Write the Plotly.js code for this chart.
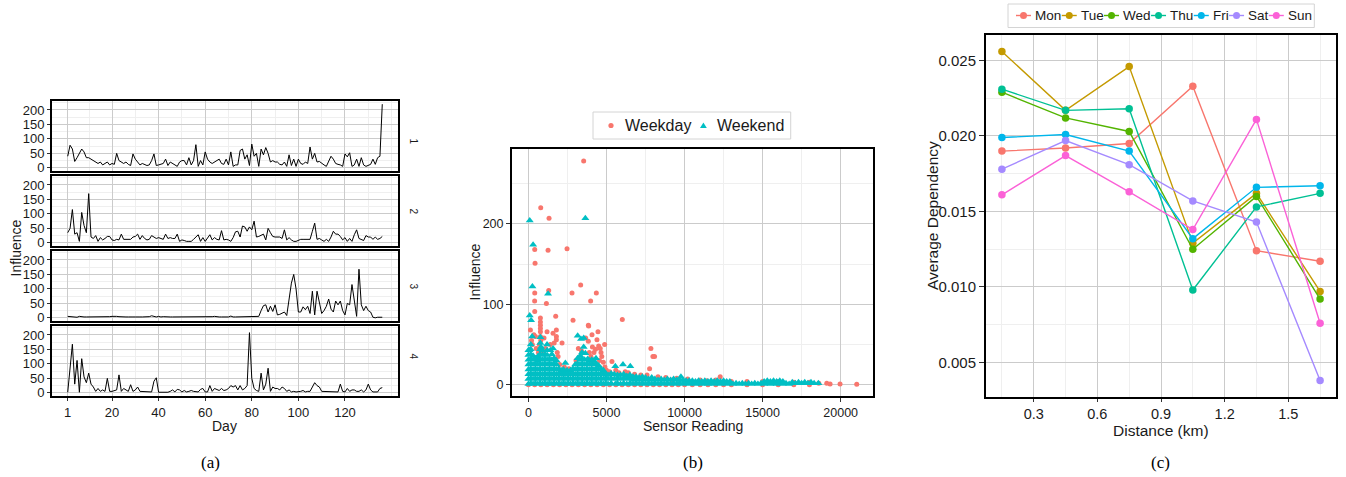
<!DOCTYPE html>
<html><head><meta charset="utf-8">
<script src="https://cdn.plot.ly/plotly-3.0.1.min.js"></script>
<style>html,body{margin:0;padding:0;background:#fff;}#chart{width:1346px;height:477px;}</style>
</head><body><div id="chart"></div>
<script>
// ---------- Panel (a): daily influence for four clusters ----------
const clusterLabels = ['1', '2', '3', '4'];
const dayTicks = [1, 20, 40, 60, 80, 100, 120];
const influence1 = [40,78,65,22,35,50,65,55,35,35, 30,25,20,15,20,10,15,20,10,15, 12,50,25,20,15,20,12,8,48,30,
  20,10,15,10,8,10,25,48,8,10, 12,15,30,8,20,15,10,5,20,25, 25,10,35,10,25,80,5,25,10,55,
  30,20,15,20,22,30,15,12,30,10, 55,5,10,10,60,65,30,45,8,82, 40,50,5,65,45,70,50,20,25,20,
  20,12,10,20,5,45,8,30,5,30, 15,12,20,15,72,30,50,20,22,15, 10,5,20,40,30,15,12,10,5,48,
  38,52,5,10,30,5,35,10,5,10, 12,30,12,35,40,220];
const influence2 = [35,50,115,30,35,5,105,60,35,170, 20,15,25,5,18,10,15,22,22,10, 8,12,10,30,12,12,10,12,20,22,
  30,12,25,15,10,12,25,20,15,18, 15,12,30,15,18,15,15,30,5,10, 8,5,5,5,12,20,28,5,18,5,
  15,28,10,18,12,10,42,10,12,10, 5,18,38,40,20,58,55,40,55,45, 75,20,22,25,30,10,50,35,22,20,
  20,20,15,45,10,18,10,5,5,10, 12,12,12,10,12,40,68,12,15,10, 5,12,5,20,40,30,30,22,10,18,
  5,15,5,28,45,15,10,8,25,20, 20,12,20,12,15,22];
const influence3 = [5,4,3,3,2,5,3,3,3,3, 3,2,3,3,4,3,3,3,4,5, 6,5,4,3,4,3,3,4,3,3,
  2,3,3,3,2,4,7,4,3,5, 3,4,3,4,3,3,3,2,3,4, 3,2,3,3,3,3,3,2,3,3,
  4,3,4,5,3,3,3,3,2,3, 6,3,3,3,3,3,3,3,3,3, 3,3,5,25,42,45,20,40,22,45,
  10,12,15,20,8,60,120,150,100,20, 20,38,28,40,15,92,10,92,50,15, 25,40,65,30,20,58,45,58,25,10,
  50,45,115,55,5,168,45,25,40,25, 20,2,0,2,2,2];
const influence4 = [2,85,168,30,112,2,118,55,35,68, 30,20,5,15,5,10,5,50,5,5, 8,10,62,5,15,10,5,28,5,10,
  20,5,5,3,5,5,3,40,52,2, 2,2,2,2,5,10,3,12,10,3, 8,3,5,8,5,5,3,12,15,3,
  3,25,5,15,10,8,15,8,10,15, 25,20,25,10,25,10,15,25,208,50, 15,8,5,68,10,30,85,5,20,15,
  15,10,20,15,5,10,3,5,3,3, 5,8,3,5,5,20,35,25,20,5, 5,3,3,3,3,3,3,30,5,3,
  15,5,10,10,5,5,10,3,10,30, 10,3,3,3,15,18];

// ---------- Panel (b): sensor reading vs influence ([reading, influence]) ----------
const groupNames = ['Weekday', 'Weekend'];
const readingTicks = [0, 5000, 10000, 15000, 20000];
const weekdayPoints = [
  [3540,278],[790,220],[1322,207],[405,168],[1259,167],[2474,169],[426,151],[3347,124],[405,114],[1300,117],
  [2794,114],[4350,114],[400,104],[1152,101],[3987,104],[405,91],[1749,85],[2858,80],[6014,81],[3839,74],
  [4457,66],[4073,62],[7847,45],[7975,35],[8080,35],[7762,20],[5352,29],[4883,50],[12284,10],[19110,2],
  [19322,1],[19962,1],[21030,0.5],[10960,5],[11433,5],[9194,6],
  [128,68],[768,83],[768,78],[768,74],[768,70],[768,66],[768,60],[790,55],[1194,66],[1791,68],[1578,64],
  [1791,60],[1791,56],[2154,52],[3860,73],[4393,56],[3668,58],[3838,54],[4500,48],[4600,45],[4650,40],
  [4700,35],[4550,30],[4800,28],[4900,22],[5000,18],[5200,16],[4300,44],[4200,40],[4100,47],[200,55],
  [250,50],[350,62],[450,60],[500,45],[640,40],[700,50],[960,40],[1000,58],[1100,45],[1400,50],[1650,52],
  [1850,40],[1900,35],[2000,25],[2300,22],[2600,20],[3050,30],[3200,45],[3400,42],[3900,40],[4000,35],
  [5600,18],[5800,15],[6200,16],[6400,15],[6800,13],[7200,12],[7600,12],[8300,10],[8800,9],[9500,8],
  [10200,7],[11000,6],[12000,6],[13000,4],[14000,4],[15000,4],[16000,4],[17000,3],[18000,3],[18600,2],
  [0,0],[400,0],[800,0],[1200,0],[1600,0],[2000,0],[2400,0],[2800,0],[3200,0],[3600,0],[4000,0],[4400,0],
  [4800,0],[5200,0],[5600,0],[6000,0],[6400,0],[6800,0],[7200,0],[7600,0],[8000,0],[8400,0],[8800,0],
  [9200,0],[9600,0],[10000,0],[10500,0],[11000,0],[11500,0],[12000,0],[12500,0],[13000,0],[14000,0],
  [15000,0],[16000,0],[17000,0],[18000,0]
];
const weekendPoints = [
  [0,1],[0,7],[0,13],[0,19],[0,25],[0,31],[0,37],[0,43],[64,43],[85,86],[85,204],[170,80],[237,60],
  [150,2],[150,8],[150,14],[150,20],[150,26],[150,32],[150,38],[150,44],[150,50],
  [300,1],[300,7],[300,13],[300,19],[300,25],[300,31],[300,36],[300,174],[256,122],
  [450,2],[450,8],[450,14],[450,20],[450,26],[450,33],
  [600,1],[600,7],[600,13],[600,19],[600,25],[600,30],[600,35],
  [750,2],[750,8],[750,14],[750,20],[750,26],[750,32],[750,38],[750,44],[768,52],[768,59],[810,47],
  [900,1],[900,7],[900,13],[900,19],[900,25],[900,31],[900,37],[900,43],
  [1050,2],[1050,8],[1050,14],[1050,20],[1050,26],[1050,32],[1050,38],
  [1200,1],[1200,7],[1200,13],[1200,19],[1200,25],[1200,31],[1200,37],[1200,43],[1194,50],[1259,113],
  [1350,2],[1350,8],[1350,14],[1350,20],[1350,26],[1350,32],[1408,43],
  [1500,1],[1500,7],[1500,13],[1500,19],[1500,25],[1500,31],[1500,38],[1578,45],
  [1650,2],[1650,8],[1650,14],[1650,20],[1650,26],[1650,33],
  [1800,1],[1800,7],[1800,13],[1800,19],[1800,25],[1800,30],
  [1950,2],[1950,8],[1950,14],[1950,20],[2100,1],[2100,7],[2100,13],[2100,18],
  [2250,2],[2250,8],[2250,14],[2250,19],[2367,27],[2400,1],[2400,7],[2400,13],[2474,18],
  [2550,2],[2550,8],[2550,14],[2700,1],[2700,7],[2700,13],[2700,18],
  [2850,2],[2850,8],[2850,14],[2850,20],[3000,1],[3000,7],[3000,13],[3000,19],[3000,25],
  [3150,2],[3150,8],[3150,14],[3150,20],[3150,26],[3150,33],[3156,61],
  [3300,1],[3300,7],[3300,13],[3300,19],[3300,25],[3300,31],[3327,36],[3369,57],
  [3450,2],[3450,8],[3450,14],[3450,20],[3450,26],[3450,32],[3433,40],[3540,58],[3540,47],
  [3600,1],[3600,7],[3600,13],[3600,19],[3600,25],[3600,31],[3647,39],[3647,207],
  [3750,2],[3750,8],[3750,14],[3750,20],[3750,26],[3796,32],
  [3900,1],[3900,7],[3900,13],[3900,19],[3900,25],[3900,30],
  [4050,2],[4050,8],[4050,14],[4050,20],[4050,26],[4050,31],
  [4200,1],[4200,7],[4200,13],[4200,19],[4200,25],[4180,30],
  [4350,2],[4350,8],[4350,14],[4350,20],[4350,26],[4329,33],
  [4500,1],[4500,7],[4500,13],[4500,19],[4500,24],[4650,2],[4650,8],[4650,14],[4650,20],
  [4800,1],[4800,7],[4800,13],[4800,18],[4950,2],[4950,8],[4950,14],
  [5100,1],[5100,7],[5100,12],[5300,2],[5300,8],[5300,14],
  [5566,1],[5500,7],[5500,13],[5566,23],[5700,2],[5700,8],[5700,12],[5900,1],[5900,7],[5900,12],
  [6057,25],[6100,2],[6100,8],[6100,13],[6300,1],[6300,7],[6300,11],
  [6526,23],[6500,2],[6500,8],[6500,12],[6700,1],[6700,6],[6700,10],[6900,2],[6900,7],[6900,10],
  [7100,1],[7100,6],[7100,9],[7300,2],[7300,7],[7300,10],[7500,1],[7500,6],[7500,9],
  [7700,2],[7700,7],[7900,1],[7900,6],[7900,9],[8100,2],[8100,7],[8300,1],[8300,6],
  [8500,2],[8500,7],[8700,1],[8700,6],[8900,2],[8900,7],[9100,1],[9100,6],[9300,2],[9300,7],
  [9500,1],[9500,6],[9700,2],[9700,6],[9770,10],[9900,1],[9900,6],
  [10100,2],[10100,5],[10300,1],[10300,5],[10500,2],[10500,5],[10700,1],[10700,4],[10900,2],[10900,5],
  [11100,1],[11100,4],[11300,2],[11300,5],[11500,1],[11500,4],[11700,2],[11700,5],[11900,1],[11900,4],
  [12100,2],[12100,5],[12300,1],[12300,4],[12500,2],[12500,5],[12700,1],[12700,4],[12900,2],[12900,4],
  [13100,1],[13300,2],[13500,1],[13700,2],[13900,1],[14100,2],[14300,1],[14500,2],[14700,1],[14900,2],
  [15100,1],[15100,4],[15300,2],[15300,5],[15500,1],[15500,4],[15700,2],[15700,5],[15900,1],[15900,4],
  [16100,2],[16100,5],[16300,1],[16300,4],[16500,2],[16700,1],[16900,3],[17100,2],[17300,3],[17500,2],
  [17700,3],[17900,2],[18100,3],[18300,2],[18573,2]
];

// ---------- Panel (c): average dependency vs distance ----------
const distances = [0.15, 0.45, 0.75, 1.05, 1.35, 1.65];
const weekdays = ['Mon', 'Tue', 'Wed', 'Thu', 'Fri', 'Sat', 'Sun'];
const depMon = [0.0190, 0.0192, 0.0195, 0.0233, 0.0124, 0.0117];
const depTue = [0.0256, 0.0217, 0.0246, 0.0129, 0.0162, 0.0097];
const depWed = [0.0229, 0.0212, 0.0203, 0.0125, 0.0160, 0.0092];
const depThu = [0.0231, 0.0217, 0.0218, 0.0098, 0.0153, 0.0162];
const depFri = [0.0199, 0.0201, 0.0190, 0.0132, 0.0166, 0.0167];
const depSat = [0.0178, 0.0197, 0.0181, 0.0157, 0.0143, 0.0038];
const depSun = [0.0161, 0.0187, 0.0163, 0.0138, 0.0211, 0.0076];

// ---------- styling / layout ----------
const W = 1346, H = 477;
const fx = p => p / W, fy = p => 1 - p / H;
const SANS = '"Liberation Sans", Arial, Helvetica, sans-serif';
const SERIF = '"Liberation Serif", "Times New Roman", serif';
const TXT = '#1a1a1a';
const dayColors = ['#F8766D', '#C49A00', '#53B400', '#00C094', '#00B6EB', '#A58AFF', '#FB61D7'];
const groupColors = ['#F8766D', '#00BFC4'];
const depSeries = [depMon, depTue, depWed, depThu, depFri, depSat, depSun];
const influenceSeries = [influence1, influence2, influence3, influence4];
const days = influence1.map((_, i) => i + 1);

const ctx = document.createElement('canvas').getContext('2d');
function tw(t, size) { ctx.font = size + 'px "Liberation Sans"'; return ctx.measureText(t).width; }

function frame(extra) {
  return Object.assign({
    showline: true, mirror: true, linecolor: '#000', linewidth: 2, zeroline: false,
    showgrid: true, gridcolor: '#cbcbcb', gridwidth: 1,
    ticks: 'outside', ticklen: 3, tickwidth: 1, tickcolor: '#333',
    tickfont: { family: SANS, size: 13, color: TXT }, fixedrange: true
  }, extra);
}
const minorGrid = { showgrid: true, gridcolor: '#efefef', gridwidth: 1, ticks: '' };

const data = [];
const layout = {
  width: W, height: H, margin: { l: 0, r: 0, t: 0, b: 0 },
  paper_bgcolor: '#fff', plot_bgcolor: '#fff', showlegend: false,
  font: { family: SANS, color: TXT }, annotations: [], shapes: []
};

const panelRows = [[101, 171], [176, 246], [251, 321], [326, 396]];
influenceSeries.forEach((vals, k) => {
  const n = k + 1;
  data.push({ x: days, y: vals, mode: 'lines', line: { color: '#000', width: 1 },
    xaxis: 'x' + (n === 1 ? '' : n), yaxis: 'y' + (n === 1 ? '' : n), hoverinfo: 'skip' });
  const bottom = n === 4;
  layout['xaxis' + (n === 1 ? '' : n)] = frame({
    domain: [fx(52), fx(398)], range: [-5.75, 142.75], anchor: 'y' + (n === 1 ? '' : n),
    tickmode: 'array', tickvals: dayTicks, ticktext: dayTicks.map(String), showticklabels: bottom, ticks: bottom ? 'outside' : '',
    minor: Object.assign({ tickvals: [10.5, 30, 50, 70, 90, 110, 130, 140] }, minorGrid)
  });
  layout['yaxis' + (n === 1 ? '' : n)] = frame({
    domain: [fy(panelRows[k][1]), fy(panelRows[k][0])], range: [-11, 231],
    anchor: 'x' + (n === 1 ? '' : n), tickmode: 'array', tickvals: [0, 50, 100, 150, 200],
    minor: Object.assign({ tickvals: [25, 75, 125, 175, 225] }, minorGrid)
  });
  layout.annotations.push({ xref: 'paper', yref: 'paper', x: fx(406), y: fy((panelRows[k][0] + panelRows[k][1]) / 2),
    text: clusterLabels[k], showarrow: false, textangle: 90, font: { size: 10, color: TXT, family: SANS } });
});

[weekdayPoints, weekendPoints].forEach((pts, g) => {
  data.push({ x: pts.map(p => p[0]), y: pts.map(p => p[1]), mode: 'markers', name: groupNames[g],
    marker: { symbol: g === 0 ? 'circle' : 'triangle-up', size: g === 0 ? 5 : 7, color: groupColors[g], line: { width: 0 } },
    xaxis: 'x5', yaxis: 'y5', hoverinfo: 'skip' });
});
layout.xaxis5 = frame({ domain: [fx(512), fx(873)], range: [-1051, 22072], anchor: 'y5',
  tickmode: 'array', tickvals: readingTicks, ticktext: readingTicks.map(String), ticklen: 4,
  tickfont: { family: SANS, size: 12.5, color: TXT },
  minor: Object.assign({ tickvals: [2500, 7500, 12500, 17500] }, minorGrid) });
layout.yaxis5 = frame({ domain: [fy(396), fy(149)], range: [-14, 293], anchor: 'x5',
  tickmode: 'array', tickvals: [0, 100, 200], ticktext: ['0', '100', '200'], ticklen: 4,
  tickfont: { family: SANS, size: 12.5, color: TXT },
  minor: Object.assign({ tickvals: [50, 150, 250] }, minorGrid) });

depSeries.forEach((vals, i) => {
  data.push({ x: distances, y: vals, mode: 'lines+markers', name: weekdays[i],
    line: { color: dayColors[i], width: 1.4 }, marker: { color: dayColors[i], size: 7.5 },
    xaxis: 'x6', yaxis: 'y6', hoverinfo: 'skip' });
});
layout.xaxis6 = frame({ domain: [fx(986), fx(1336)], range: [0.075, 1.725], anchor: 'y6',
  tickmode: 'array', tickvals: [0.3, 0.6, 0.9, 1.2, 1.5], ticktext: ['0.3', '0.6', '0.9', '1.2', '1.5'],
  ticklen: 3, tickfont: { family: SANS, size: 14.5, color: TXT },
  minor: Object.assign({ tickvals: [0.15, 0.45, 0.75, 1.05, 1.35, 1.65] }, minorGrid) });
layout.yaxis6 = frame({ domain: [fy(397), fy(35)], range: [0.00271, 0.02669], anchor: 'x6',
  tickmode: 'array', tickvals: [0.005, 0.01, 0.015, 0.02, 0.025],
  ticktext: ['0.005', '0.010', '0.015', '0.020', '0.025'],
  ticklen: 5, tickfont: { family: SANS, size: 15, color: TXT },
  minor: Object.assign({ tickvals: [0.0075, 0.0125, 0.0175, 0.0225] }, minorGrid) });

// axis titles and captions
function note(text, x, y, size, extra) {
  layout.annotations.push(Object.assign({ xref: 'paper', yref: 'paper', x: fx(x), y: fy(y), text: text,
    showarrow: false, xanchor: 'center', yanchor: 'middle', font: { family: SANS, size: size, color: TXT } }, extra || {}));
}
note('Day', 225, 426, 14);
note('Influence', 15, 248.5, 14, { textangle: -90 });
note('Sensor Reading', 693, 426, 14);
note('Influence', 474, 272.5, 14, { textangle: -90 });
note('Distance (km)', 1161, 430, 15.5);
note('Average Dependency', 932, 216, 15.5, { textangle: -90 });
note('(a)', 210, 462, 17, { font: { family: SERIF, size: 17, color: '#000' } });
note('(b)', 693, 462, 17, { font: { family: SERIF, size: 17, color: '#000' } });
note('(c)', 1160, 462, 17, { font: { family: SERIF, size: 17, color: '#000' } });

// legend for (b)
(function () {
  let x = 605; const yc = 125.5, fs = 16;
  const boxL = 593;
  groupNames.forEach((name, g) => {
    const common = { xref: 'paper', yref: 'paper', xsizemode: 'pixel', ysizemode: 'pixel',
      xanchor: fx(x + 6), yanchor: fy(yc), fillcolor: groupColors[g], line: { width: 0 } };
    if (g === 0) layout.shapes.push(Object.assign({ type: 'circle', x0: -2.6, x1: 2.6, y0: -2.6, y1: 2.6 }, common));
    else layout.shapes.push(Object.assign({ type: 'path', path: 'M -3.4 -2.6 L 3.4 -2.6 L 0 3.0 Z' }, common));
    note(name, x + 18, yc, fs, { xanchor: 'left' });
    x += 18 + tw(name, fs) + 8;
  });
  layout.shapes.push({ type: 'rect', xref: 'paper', yref: 'paper', x0: fx(boxL), x1: fx(x), y0: fy(139), y1: fy(112),
    line: { color: '#d4d4d4', width: 1 }, fillcolor: 'rgba(0,0,0,0)' });
})();

// legend for (c)
(function () {
  let x = 1016; const yc = 15.5, fs = 13.5;
  weekdays.forEach((name, i) => {
    layout.shapes.push({ type: 'line', xref: 'paper', yref: 'paper', x0: fx(x), x1: fx(x + 15), y0: fy(yc), y1: fy(yc),
      line: { color: dayColors[i], width: 1.4 } });
    layout.shapes.push({ type: 'circle', xref: 'paper', yref: 'paper', xsizemode: 'pixel', ysizemode: 'pixel',
      xanchor: fx(x + 7.5), yanchor: fy(yc), x0: -3.5, x1: 3.5, y0: -3.5, y1: 3.5,
      fillcolor: dayColors[i], line: { width: 0 } });
    note(name, x + 17, yc, fs, { xanchor: 'left' });
    x += 17 + tw(name, fs) + 2.5;
  });
  layout.shapes.push({ type: 'rect', xref: 'paper', yref: 'paper', x0: fx(1008), x1: fx(x + 2), y0: fy(27.5), y1: fy(4),
    line: { color: '#d4d4d4', width: 1 }, fillcolor: 'rgba(0,0,0,0)' });
})();

Plotly.newPlot('chart', data, layout, { staticPlot: true, displayModeBar: false });
</script>
</body></html>
